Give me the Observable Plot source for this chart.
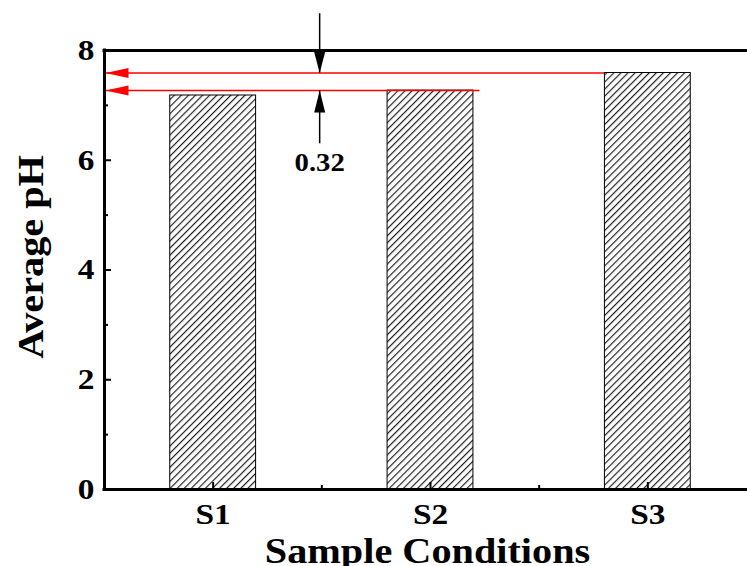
<!DOCTYPE html>
<html><head><meta charset="utf-8">
<script src="https://cdn.jsdelivr.net/npm/d3@7"></script>
<script src="https://cdn.jsdelivr.net/npm/@observablehq/plot@0.6"></script>
<style>
body{margin:0;background:#fff;}
#chart{width:747px;height:566px;overflow:hidden;position:relative;}
#chart svg{max-width:none !important;}
</style></head><body><div id="chart"></div>
<script>
// ---- data ----
const categories = ["S1", "S2", "S3"];
const averagePH = [7.18, 7.27, 7.59];
const yTicks = [0, 2, 4, 6, 8];
const yMinorTicks = [1, 3, 5, 7];
const xMinorTicks = [1.5, 2.5];
const xLabel = "Sample Conditions";
const yLabel = "Average pH";
const diffLabel = "0.32";
const annotX = [1.49];          // position of the difference marker (category units)
const annotTop = [8.67];        // top of the downward arrow shaft
const annotBottom = [6.3];      // bottom of the upward arrow shaft

// ---- derived ----
const barWidth = 0.395;
const bars = categories.map((c, i) => ({cat: c, pos: i + 1, value: averagePH[i]}));
const s2 = bars[1], s3 = bars[2];
const refLines = [
  {y: s3.value, x1: 0.5, x2: s3.pos - barWidth / 2},
  {y: s2.value, x1: 0.5, x2: s2.pos + barWidth / 2 + 0.03}
];
const annot = [{x: annotX[0], top: annotTop[0], bottom: annotBottom[0], hi: s3.value, lo: s2.value, label: diffLabel}];

const headLeft = {draw(c) { c.moveTo(0, 0); c.lineTo(23, -5); c.lineTo(23, 5); c.closePath(); }};
const headDown = {draw(c) { c.moveTo(0, 0); c.lineTo(-5.5, -21); c.lineTo(5.5, -21); c.closePath(); }};
const headUp = {draw(c) { c.moveTo(0, 0); c.lineTo(-5.5, 22); c.lineTo(5.5, 22); c.closePath(); }};

const font = "'Liberation Serif', 'Times New Roman', serif";

const chart = Plot.plot({
  width: 760,
  height: 566,
  marginLeft: 104,
  marginRight: 4,
  marginTop: 50,
  marginBottom: 77,
  style: {fontFamily: font, fontWeight: "bold", fontSize: "29px", color: "black", background: "white", overflow: "visible", maxWidth: "none"},
  x: {domain: [0.5, 3.5]},
  y: {domain: [0, 8]},
  marks: [
    Plot.rectY(bars, {x1: d => d.pos - barWidth / 2, x2: d => d.pos + barWidth / 2, y: "value", fill: "url(#hatch)", stroke: "black", strokeWidth: 1}),
    Plot.ruleY(refLines, {y: "y", x1: "x1", x2: "x2", stroke: "#ff0000", strokeWidth: 1.5}),
    Plot.dot(refLines, {x: "x1", y: "y", dx: 1, symbol: headLeft, fill: "#ff0000", stroke: "none"}),
    // difference annotation
    Plot.ruleX(annot, {x: "x", y1: "top", y2: "hi", stroke: "black", strokeWidth: 1.5}),
    Plot.dot(annot, {x: "x", y: "hi", symbol: headDown, fill: "black", stroke: "none"}),
    Plot.ruleX(annot, {x: "x", y1: "bottom", y2: "lo", stroke: "black", strokeWidth: 1.5}),
    Plot.dot(annot, {x: "x", y: "lo", symbol: headUp, fill: "black", stroke: "none"}),
    Plot.text(annot, {x: "x", y: "bottom", text: "label", dy: 19, lineAnchor: "middle", fontSize: 25}),
    // frame
    Plot.ruleY([0, 8], {stroke: "black", strokeWidth: 3, strokeLinecap: "square"}),
    Plot.ruleX([0.5], {stroke: "black", strokeWidth: 3, strokeLinecap: "square"}),
    // axes
    Plot.axisY(yTicks, {anchor: "left", tickSize: -7, tickPadding: 17, strokeWidth: 2, tickFormat: d => String(d), label: null, fontSize: 29}),
    Plot.axisY(yMinorTicks, {anchor: "left", tickSize: -4, strokeWidth: 2, tickFormat: () => "", label: null}),
    Plot.axisX(bars.map(d => d.pos), {anchor: "bottom", tickSize: -7, tickPadding: 21, strokeWidth: 2, tickFormat: i => categories[i - 1], label: null, fontSize: 29}),
    Plot.axisX(xMinorTicks, {anchor: "bottom", tickSize: -4, strokeWidth: 2, tickFormat: () => "", label: null}),
    // axis titles
    Plot.text([xLabel], {frameAnchor: "bottom", textAnchor: "middle", dx: -3, dy: 73, lineAnchor: "bottom", fontSize: 35}),
    Plot.text([yLabel], {frameAnchor: "left", textAnchor: "middle", rotate: -90, dx: -62, dy: -13, lineAnchor: "bottom", fontSize: 35})
  ]
});

// hatch pattern
const ns = "http://www.w3.org/2000/svg";
const defs = document.createElementNS(ns, "defs");
defs.innerHTML = '<pattern id="hatch" patternUnits="userSpaceOnUse" width="5" height="5" patternTransform="rotate(45)"><rect width="5" height="5" fill="white"/><line x1="0.6" y1="0" x2="0.6" y2="5" stroke="#111" stroke-width="1.1"/></pattern>';
chart.insertBefore(defs, chart.firstChild);

// tick label size
chart.querySelectorAll('g[aria-label$="tick label"]').forEach(g => {
  g.setAttribute("font-size", "29");
  g.style.fontSize = "29px";
});

// horizontally stretched serif lettering, as in the reference
const stretch = 1.15;
chart.querySelectorAll("text").forEach(t => {
  const tr = t.getAttribute("transform");
  if (tr) {
    t.setAttribute("transform", tr + ` scale(${stretch},1)`);
  } else {
    const x = +(t.getAttribute("x") || 0), y = +(t.getAttribute("y") || 0);
    t.removeAttribute("x"); t.removeAttribute("y");
    t.setAttribute("transform", `translate(${x},${y}) scale(${stretch},1)`);
  }
});

document.getElementById("chart").appendChild(chart);
</script>
</body></html>
